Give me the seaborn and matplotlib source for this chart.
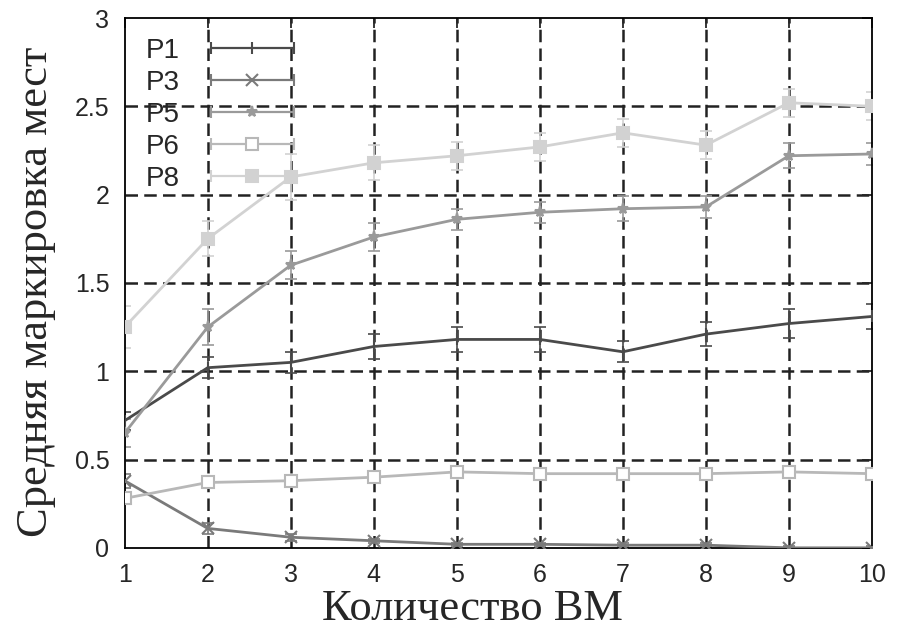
import numpy as np
import pandas as pd
import seaborn as sns
import matplotlib.pyplot as plt
from matplotlib.lines import Line2D
from matplotlib.legend_handler import HandlerLine2D, HandlerTuple

vms = [1, 2, 3, 4, 5, 6, 7, 8, 9, 10]
series = ["P1", "P3", "P5", "P6", "P8"]

p1 = [0.72, 1.02, 1.05, 1.14, 1.18, 1.18, 1.11, 1.21, 1.27, 1.31]
p3 = [0.38, 0.11, 0.06, 0.04, 0.02, 0.02, 0.015, 0.015, 0.0, 0.0]
p5 = [0.65, 1.25, 1.60, 1.76, 1.86, 1.90, 1.92, 1.93, 2.22, 2.23]
p6 = [0.28, 0.37, 0.38, 0.40, 0.43, 0.42, 0.42, 0.42, 0.43, 0.42]
p8 = [1.25, 1.75, 2.10, 2.18, 2.22, 2.27, 2.35, 2.28, 2.52, 2.50]

p1_err = [0.05, 0.06, 0.06, 0.07, 0.07, 0.07, 0.06, 0.07, 0.08, 0.07]
p3_err = [0.04, 0.03, 0.02, 0.01, 0.01, 0.01, 0.01, 0.01, 0.01, 0.01]
p5_err = [0.08, 0.10, 0.08, 0.08, 0.06, 0.06, 0.07, 0.06, 0.07, 0.06]
p6_err = [0.02, 0.02, 0.02, 0.02, 0.02, 0.02, 0.02, 0.02, 0.02, 0.02]
p8_err = [0.12, 0.10, 0.13, 0.10, 0.08, 0.08, 0.08, 0.08, 0.08, 0.08]

values = [p1, p3, p5, p6, p8]
errors = [p1_err, p3_err, p5_err, p6_err, p8_err]
colors = ["#4a4a4a", "#7a7a7a", "#9a9a9a", "#b8b8b8", "#d2d2d2"]
markers = ["|", "x", "*", "s", "s"]
filled = [True, True, True, False, True]

df = pd.DataFrame({
    "vm": vms * len(series),
    "value": sum(values, []),
    "err": sum(errors, []),
    "series": [s for s in series for _ in vms],
})

sns.set_style("white")
plt.rcParams["font.family"] = ["Liberation Sans", "DejaVu Sans"]

fig, ax = plt.subplots(figsize=(8.97, 6.43), dpi=100)
fig.subplots_adjust(left=0.139, right=0.972, bottom=0.148, top=0.972)

grid_style = dict(color="#222222", lw=1.8, ls=(0, (5, 2.5)), zorder=0)
for gx in range(2, 10):
    ax.axvline(gx, **grid_style)
for gy in [0.5, 1, 1.5, 2, 2.5]:
    ax.axhline(gy, **grid_style)

handles = []
hmap = {}
for i, name in enumerate(series):
    sub = df[df["series"] == name]
    mfc = colors[i] if filled[i] else "white"
    sns.lineplot(data=sub, x="vm", y="value", color=colors[i], lw=2,
                 marker=markers[i], markersize=8, markerfacecolor=mfc,
                 markeredgecolor=colors[i], markeredgewidth=1.5,
                 ax=ax, legend=False, zorder=3)
    ax.errorbar(sub["vm"], sub["value"], yerr=sub["err"], fmt="none",
                ecolor=colors[i], elinewidth=1.2, capsize=4, capthick=1.2, zorder=2)
    cap_line = Line2D([], [], color=colors[i], lw=1.6, marker="|", markersize=9,
                      markeredgewidth=1.5)
    mark_line = Line2D([], [], color=colors[i], lw=0, marker=markers[i], markersize=8,
                       markerfacecolor=mfc, markeredgecolor=colors[i], markeredgewidth=1.5)
    hmap[cap_line] = HandlerLine2D(numpoints=2)
    hmap[mark_line] = HandlerLine2D(numpoints=1)
    handles.append((cap_line, mark_line))

hmap[tuple] = HandlerTuple(ndivide=1, pad=0)
leg = ax.legend(handles, series, handler_map=hmap, loc="upper left",
                bbox_to_anchor=(-0.005, 1.01), frameon=False, markerfirst=False,
                fontsize=20, handlelength=3.6, handletextpad=0.8, labelspacing=0.22)

ax.set_xlim(1, 10)
ax.set_ylim(0, 3)
ax.set_xticks(vms)
ax.set_yticks([0, 0.5, 1, 1.5, 2, 2.5, 3])
ax.set_yticklabels(["0", "0.5", "1", "1.5", "2", "2.5", "3"])
ax.tick_params(direction="in", length=7, width=1.3, labelsize=18,
               top=True, right=True, pad=11)
for sp in ax.spines.values():
    sp.set_color("black")
    sp.set_linewidth(1.3)

serif = ["Liberation Serif", "DejaVu Serif"]
ax.set_xlabel("Количество ВМ", family=serif, fontsize=32)
ax.set_ylabel("Средняя маркировка мест", family=serif, fontsize=32)
ax.xaxis.set_label_coords(0.465, -0.078)
ax.yaxis.set_label_coords(-0.092, 0.483)

fig.savefig("out.png", dpi=100)
